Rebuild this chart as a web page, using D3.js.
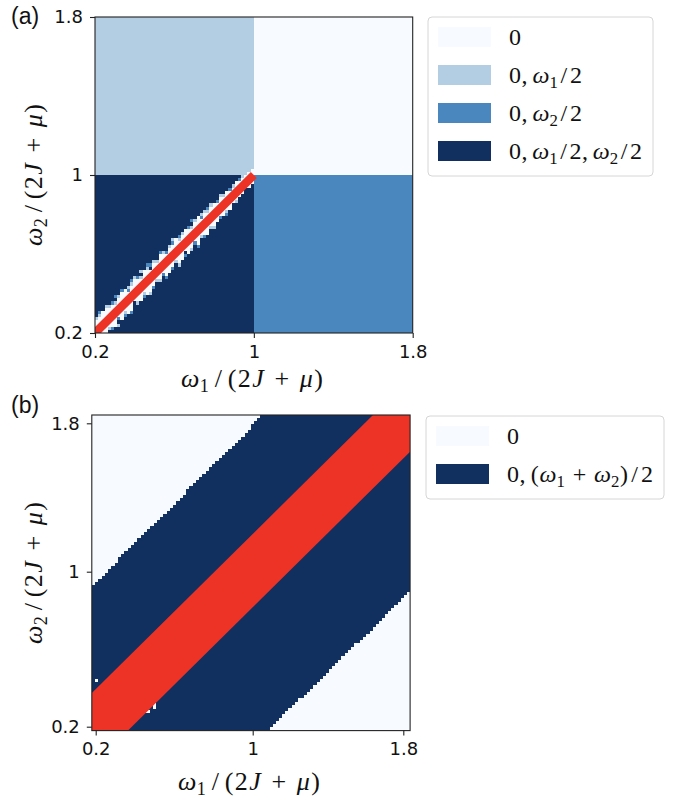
<!DOCTYPE html>
<html>
<head>
<meta charset="utf-8">
<script src="https://cdn.jsdelivr.net/npm/d3@7"></script>
<style>
  body { margin: 0; background: #fff; }
</style>
</head>
<body>
<svg id="fig" width="679" height="802"></svg>
<script>
/* ---------- data ---------- */
var tickValues = [0.2, 1, 1.8];
var tickLabels = ["0.2", "1", "1.8"];
var xLabel = "ω_1/(2J+μ)";
var yLabel = "ω_2/(2J+μ)";

// panel (a) : phases, split at omega/(2J+mu) = 1
var aLabels = ["0", "0, ω_1/2", "0, ω_2/2", "0, ω_1/2, ω_2/2"];
var aColors = ["#f7fbff", "#b3cde3", "#4a87bf", "#12305f"];
var aDomain = [0.2, 1.8];
var aGridN = 100;
// [x0, x1, y0, y1, phase]
var aQuadrants = [
  [0.2, 1, 1, 1.8, 1],
  [1, 1.8, 1, 1.8, 0],
  [1, 1.8, 0.2, 1, 2],
  [0.2, 1, 0.2, 1, 3]
];
// cells along the diagonal, one row per diagonal cell k, offsets d = -5..5
// w = "0", l = "0,w1/2", m = "0,w2/2", . = unchanged
var aDiagBand = [
  ".mwwwwwwwl.",
  ".wwwwwwwwlm",
  ".lwwwwwwww.",
  "mwwwwwwwwwl",
  "..lwwwwwwl.",
  ".mwwwwwwwm.",
  ".wwwwwwwl.m",
  "l.mwwwwwwl.",
  ".wwwwwwwwwm",
  ".mlwwwwwww.",
  ".wwwwwwwml.",
  "mwwwwwwwwlm",
  "...wwwwwwwl",
  ".lwwwwwwwm.",
  ".wwwwwwwl.l",
  ".mlwwwwwww.",
  ".wwwwwwwwlm",
  "lwwwwwww.m.",
  ".mwwwwwwwl.",
  "..lwwwwwl..",
  ".lwwwwwwwwm",
  "..mwwwwwwl.",
  "mwwwwwwwm..",
  ".wwwwwwwwl.",
  ".mwwwwwwwml",
  "..lwwwwwww.",
  "lwwwwwwwlm.",
  ".wwwwwwwwl.",
  ".m.wwwwwww.",
  ".wwwwwwwwm.",
  ".lwwwwwwl.m",
  "..mwwwwwwl.",
  "mwwwwwwwww.",
  "..lwwwwwml.",
  ".mwwwwwwwl.",
  ".wwwwwwwlm.",
  "..lwwwwwwl.",
  ".lwwwwwww..",
  "..wwwwwwm..",
  "..mwwwwwwl.",
  "..wwwwwwl..",
  ".mlwwwwww..",
  "..wwwwwwm..",
  "...wwwwwl..",
  "..lwwwwww..",
  "...wwwwwm..",
  "...wwwwwl..",
  "....wwww...",
  "...wwwww...",
  "...wwwww..."
];
var aRedLine = [[0.2, 0.2], [1, 1]];

// panel (b)
var bLabels = ["0", "0, (ω_1+ω_2)/2"];
var bColors = ["#f7fbff", "#12305f"];
var bXDomain = [0.18, 1.836];
var bYDomain = [0.18, 1.845];
var bGridN = 100;
var bUpperEdge = [[0.18, 0.923], [1.055, 1.845]];
var bLowerEdge = [[1.081, 0.18], [1.836, 0.897]];
var bRedUpper = [[0.18, 0.374], [1.639, 1.845]];
var bRedLower = [[0.3646, 0.18], [1.836, 1.647]];
var bSpecks = [[0.205, 0.437], [0.452, 0.279], [0.468, 0.279], [0.5, 0.297], [0.5, 0.313]];

var red = "#ec3326";

/* ---------- helpers ---------- */
var svg = d3.select("#fig");
var serif = "'Liberation Serif', 'DejaVu Serif', serif";
var sans = "'DejaVu Sans', sans-serif";

// tiny math-mode text: letters italic, _x subscript, spacing round + and ,
// width (optional) stretches the spacing (mostly round operators) to the wanted length
function mathText(g, str, size, width) {
  var t = g.append("text").attr("font-family", serif).attr("font-size", size).attr("fill", "#111");
  var chars = Array.from(str), shifted = false, gap = 0, spans = [];
  for (var i = 0; i < chars.length; i++) {
    var ch = chars[i];
    if (ch === " ") continue;
    var isSub = false;
    if (ch === "_") { isSub = true; ch = chars[++i]; }
    var ts = t.append("tspan").text(ch);
    if (/[A-Za-z\u03b1-\u03c9]/.test(ch)) ts.attr("font-style", "italic");
    var dx = gap; gap = 0;
    if (ch === "+") { dx += 0.25 * size; gap = 0.25 * size; }
    if (ch === "/") { dx += 0.06 * size; gap = 0.06 * size; }
    if (ch === ",") gap = 0.17 * size;
    if (isSub) { ts.attr("font-size", size * 0.7).attr("dy", 0.2 * size); shifted = true; }
    else if (shifted) { ts.attr("dy", -0.2 * size); shifted = false; }
    spans.push({ ts: ts, dx: dx, ch: ch, sub: isSub });
  }
  spans.forEach(function (s) { if (s.dx) s.ts.attr("dx", s.dx); });
  if (width && spans.length > 1) {
    var weights = spans.map(function (s, k) {
      if (k === 0) return 0;
      var prev = spans[k - 1].ch;
      if (s.sub) return 0.3;
      if (s.ch === "+" || prev === "+" || s.ch === "/" || prev === "/") return 3;
      if (prev === ",") return 2;
      return 1;
    });
    var total = d3.sum(weights);
    var extra = (width - t.node().getBBox().width) / total;
    spans.forEach(function (s, k) { if (k > 0) s.ts.attr("dx", s.dx + extra * weights[k]); });
  }
  return t;
}

function lineAt(edge, xv) {
  var p = edge[0], q = edge[1];
  return p[1] + (xv - p[0]) * (q[1] - p[1]) / (q[0] - p[0]);
}

function axes(g, x, y) {
  var left = x(x.domain()[0]);
  var xa = g.append("g").attr("transform", "translate(0," + y(y.domain()[0]) + ")")
    .call(d3.axisBottom(x).tickValues(tickValues).tickFormat(function (d, i) { return tickLabels[i]; })
      .tickSize(5).tickPadding(7));
  var ya = g.append("g").attr("transform", "translate(" + left + ",0)")
    .call(d3.axisLeft(y).tickValues(tickValues).tickFormat(function (d, i) { return tickLabels[i]; })
      .tickSize(5).tickPadding(7));
  [xa, ya].forEach(function (a) {
    a.select(".domain").remove();
    a.attr("font-family", sans).attr("font-size", 18);
    a.selectAll("line").attr("stroke", "#222").attr("stroke-width", 1.1);
    a.selectAll("text").attr("fill", "#111");
  });
}

function frameRect(g, x, y) {
  var xd = x.domain(), yd = y.domain();
  g.append("rect")
    .attr("x", x(xd[0])).attr("y", y(yd[yd.length - 1]))
    .attr("width", x(xd[xd.length - 1]) - x(xd[0]))
    .attr("height", y(yd[0]) - y(yd[yd.length - 1]))
    .attr("fill", "none").attr("stroke", "#222").attr("stroke-width", 1.1);
}

function clip(id, x, y) {
  var xd = x.domain(), yd = y.domain();
  svg.append("clipPath").attr("id", id).append("rect")
    .attr("x", x(xd[0])).attr("y", y(yd[yd.length - 1]))
    .attr("width", x(xd[xd.length - 1]) - x(xd[0]))
    .attr("height", y(yd[0]) - y(yd[yd.length - 1]));
}

function legend(g, x0, y0, w, labels, colors, widths) {
  var rowH = 38;
  g.append("rect").attr("x", x0).attr("y", y0).attr("width", w)
    .attr("height", labels.length * rowH + 7).attr("rx", 4)
    .attr("fill", "#fff").attr("stroke", "#d6d6d6").attr("stroke-width", 1);
  labels.forEach(function (lab, i) {
    var cy = y0 + 20 + i * rowH;
    g.append("rect").attr("x", x0 + 10).attr("y", cy - 10).attr("width", 53).attr("height", 20)
      .attr("fill", colors[i]);
    mathText(g, lab, 24, widths[i]).attr("x", x0 + 81).attr("y", cy + 8);
  });
}

/* ---------- panel (a) ---------- */
var ax = d3.scaleLinear().domain(aDomain).range([95, 412.7]);
var ay = d3.scaleLinear().domain(aDomain).range([333, 17]);
clip("clipA", ax, ay);
var ga = svg.append("g");
var heatA = ga.append("g").attr("clip-path", "url(#clipA)").attr("shape-rendering", "crispEdges");

heatA.selectAll("rect.q").data(aQuadrants).join("rect").attr("class", "q")
  .attr("x", function (d) { return ax(d[0]); })
  .attr("y", function (d) { return ay(d[3]); })
  .attr("width", function (d) { return ax(d[1]) - ax(d[0]); })
  .attr("height", function (d) { return ay(d[2]) - ay(d[3]); })
  .attr("fill", function (d) { return aColors[d[4]]; });

var aCell = (aDomain[1] - aDomain[0]) / aGridN;
var code = { w: 0, l: 1, m: 2 };
var aCells = [];
aDiagBand.forEach(function (row, k) {
  Array.from(row).forEach(function (ch, idx) {
    var j = k + idx - 5;
    if (ch === "." || j < 0) return;
    aCells.push({ i: k, j: j, p: code[ch] });
  });
});
heatA.selectAll("rect.c").data(aCells).join("rect").attr("class", "c")
  .attr("x", function (d) { return ax(aDomain[0] + d.i * aCell); })
  .attr("y", function (d) { return ay(aDomain[0] + (d.j + 1) * aCell); })
  .attr("width", function (d) { return ax(aDomain[0] + (d.i + 1) * aCell) - ax(aDomain[0] + d.i * aCell); })
  .attr("height", function (d) { return ay(aDomain[0] + d.j * aCell) - ay(aDomain[0] + (d.j + 1) * aCell); })
  .attr("fill", function (d) { return aColors[d.p]; });

ga.append("path").attr("clip-path", "url(#clipA)")
  .attr("d", d3.line().x(function (d) { return ax(d[0]); }).y(function (d) { return ay(d[1]); })(aRedLine))
  .attr("stroke", red).attr("stroke-width", 8.5).attr("fill", "none");

frameRect(ga, ax, ay);
axes(ga, ax, ay);
mathText(ga, xLabel, 26, 142).attr("text-anchor", "middle").attr("x", 252).attr("y", 387);
mathText(ga, yLabel, 26, 142).attr("text-anchor", "middle").attr("transform", "translate(42,175) rotate(-90)");
ga.append("text").attr("x", 11).attr("y", 24).attr("font-family", "'Liberation Sans', Arial, sans-serif")
  .attr("font-size", 23).attr("fill", "#111").text("(a)");
legend(ga, 428, 17, 225, aLabels, aColors, [null, 73, 73, 133]);

/* ---------- panel (b) ---------- */
var bx = d3.scaleLinear().domain([bXDomain[0], 0.2, 1, 1.8, bXDomain[1]])
  .range([91.8, 95.7, 252.7, 403.3, 410.1]);
var by = d3.scaleLinear().domain([bYDomain[0], 0.2, 1, 1.8, bYDomain[1]])
  .range([730.6, 726.7, 571.7, 423.3, 415]);
clip("clipB", bx, by);
var gb = svg.append("g");
var heatB = gb.append("g").attr("clip-path", "url(#clipB)").attr("shape-rendering", "crispEdges");

heatB.append("rect")
  .attr("x", bx(bXDomain[0])).attr("y", by(bYDomain[1]))
  .attr("width", bx(bXDomain[1]) - bx(bXDomain[0]))
  .attr("height", by(bYDomain[0]) - by(bYDomain[1]))
  .attr("fill", bColors[0]);

var bw = (bXDomain[1] - bXDomain[0]) / bGridN, bh = (bYDomain[1] - bYDomain[0]) / bGridN;
var bRuns = [];
for (var r = 0; r < bGridN; r++) {
  var cyv = bYDomain[0] + (r + 0.5) * bh, start = -1;
  for (var c = 0; c <= bGridN; c++) {
    var cxv = bXDomain[0] + (c + 0.5) * bw;
    var dark = c < bGridN && cyv < lineAt(bUpperEdge, cxv) && cyv > lineAt(bLowerEdge, cxv);
    if (dark && start < 0) start = c;
    if (!dark && start >= 0) { bRuns.push({ r: r, c0: start, c1: c }); start = -1; }
  }
}
heatB.selectAll("rect.run").data(bRuns).join("rect").attr("class", "run")
  .attr("x", function (d) { return bx(bXDomain[0] + d.c0 * bw); })
  .attr("y", function (d) { return by(bYDomain[0] + (d.r + 1) * bh); })
  .attr("width", function (d) { return bx(bXDomain[0] + d.c1 * bw) - bx(bXDomain[0] + d.c0 * bw); })
  .attr("height", function (d) { return by(bYDomain[0] + d.r * bh) - by(bYDomain[0] + (d.r + 1) * bh); })
  .attr("fill", bColors[1]);

heatB.selectAll("rect.speck").data(bSpecks).join("rect").attr("class", "speck")
  .attr("x", function (d) { return bx(d[0]) - 1.5; })
  .attr("y", function (d) { return by(d[1]) - 1.5; })
  .attr("width", 3).attr("height", 3)
  .attr("fill", bColors[0]);

var redPoly = [bRedUpper[0], bRedUpper[1], [bXDomain[1], bYDomain[1]], bRedLower[1], bRedLower[0], [bXDomain[0], bYDomain[0]]];
gb.append("path").attr("clip-path", "url(#clipB)")
  .attr("d", d3.line().x(function (d) { return bx(d[0]); }).y(function (d) { return by(d[1]); })(redPoly) + "Z")
  .attr("fill", red);

frameRect(gb, bx, by);
axes(gb, bx, by);
mathText(gb, xLabel, 26, 142).attr("text-anchor", "middle").attr("x", 249).attr("y", 790);
mathText(gb, yLabel, 26, 142).attr("text-anchor", "middle").attr("transform", "translate(42,573) rotate(-90)");
gb.append("text").attr("x", 11).attr("y", 413).attr("font-family", "'Liberation Sans', Arial, sans-serif")
  .attr("font-size", 23).attr("fill", "#111").text("(b)");
legend(gb, 426, 416, 238, bLabels, bColors, [null, 146]);
</script>
</body>
</html>
